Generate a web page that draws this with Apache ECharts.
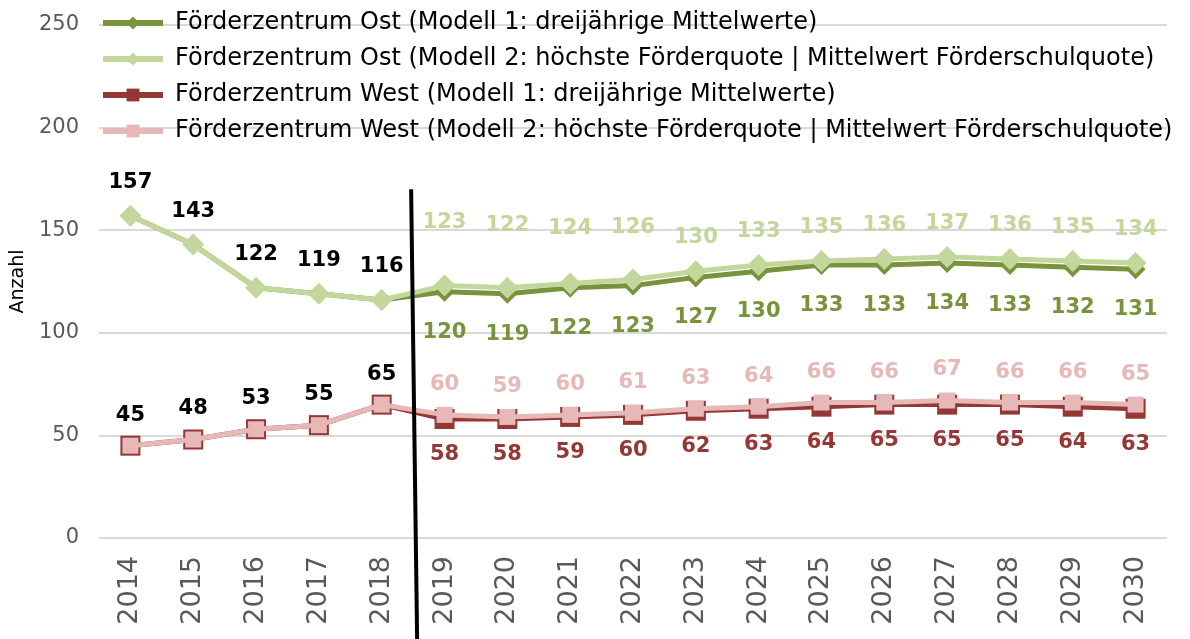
<!DOCTYPE html>
<html>
<head>
<meta charset="utf-8">
<script src="https://cdn.jsdelivr.net/npm/echarts@6/dist/echarts.min.js"></script>
<style>
  html, body { margin: 0; padding: 0; background: #fff; }
  #chart { width: 1190px; height: 639px; }
</style>
</head>
<body>
<div id="chart"></div>
<script>
// Daten
const years = ['2014', '2015', '2016', '2017', '2018', '2019', '2020', '2021', '2022',
  '2023', '2024', '2025', '2026', '2027', '2028', '2029', '2030'];
const ostModell1 = [157, 143, 122, 119, 116, 120, 119, 122, 123, 127, 130, 133, 133, 134, 133, 132, 131];
const ostModell2 = [157, 143, 122, 119, 116, 123, 122, 124, 126, 130, 133, 135, 136, 137, 136, 135, 134];
const westModell1 = [45, 48, 53, 55, 65, 58, 58, 59, 60, 62, 63, 64, 65, 65, 65, 64, 63];
const westModell2 = [45, 48, 53, 55, 65, 60, 59, 60, 61, 63, 64, 66, 66, 67, 66, 66, 65];
const seriesNames = [
  'Förderzentrum Ost (Modell 1: dreijährige Mittelwerte)',
  'Förderzentrum Ost (Modell 2: höchste Förderquote | Mittelwert Förderschulquote)',
  'Förderzentrum West (Modell 1: dreijährige Mittelwerte)',
  'Förderzentrum West (Modell 2: höchste Förderquote | Mittelwert Förderschulquote)'
];
const istJahre = 5; // 2014-2018 Ist-Werte

const font = '"DejaVu Sans", Verdana, sans-serif';
const dunkelGruen = '#77933c', hellGruen = '#c3d69b';
const dunkelRot = '#953735', hellRot = '#e6b9b8';

// Labels Ost Modell 2 in 2019-2022 etwas hoeher gesetzt (wie im Original)
const ostLabelShift = { 5: -30, 6: -29, 7: -22, 8: -18 };

// Modell 1: Ist-Jahre ohne Label, Prognose unten
function modell1Data(values) {
  return values.map((v, i) => i < istJahre ? { value: v, label: { show: false } } : v);
}
// Modell 2: Ist-Jahre schwarzes Label oben
function modell2Data(values, shift) {
  return values.map((v, i) => {
    if (i < istJahre) return { value: v, label: { color: '#000' } };
    if (shift && shift[i]) return { value: v, label: { offset: [0, shift[i]] } };
    return v;
  });
}

function lineSeries(name, data, color, symbol, size, pos, dist, z) {
  return {
    name: name,
    type: 'line',
    data: data,
    z: z,
    symbol: symbol,
    symbolSize: size,
    showAllSymbol: true,
    color: color,
    lineStyle: { color: color, width: 5 },
    itemStyle: { color: color },
    emphasis: { disabled: true },
    label: {
      show: true,
      position: pos,
      distance: dist,
      color: color,
      fontFamily: font,
      fontSize: 21,
      fontWeight: 'bold'
    }
  };
}

const chart = echarts.init(document.getElementById('chart'));
chart.setOption({
  animation: false,
  textStyle: { fontFamily: font },
  grid: { left: 99, right: 23, top: 25, bottom: 101, outerBoundsMode: 'none' },
  legend: {
    orient: 'vertical',
    left: 100,
    top: 11,
    padding: 0,
    itemWidth: 60,
    itemHeight: 16,
    itemGap: 12,
    lineStyle: { width: 6 },
    textStyle: { fontFamily: font, fontSize: 24, color: '#000', padding: [0, 0, 0, 7] },
    data: seriesNames
  },
  xAxis: {
    type: 'category',
    data: years,
    boundaryGap: true,
    axisLine: { show: false },
    axisTick: { show: false },
    axisLabel: { rotate: 90, fontSize: 27, color: '#595959', margin: 18, fontFamily: font }
  },
  yAxis: {
    type: 'value',
    min: 0,
    max: 250,
    interval: 50,
    name: 'Anzahl',
    nameLocation: 'middle',
    nameGap: 71,
    nameTextStyle: { fontSize: 19, color: '#000', fontFamily: font },
    axisLabel: { fontSize: 21, color: '#595959', margin: 20, fontFamily: font },
    splitLine: { lineStyle: { color: '#d9d9d9', width: 2 } }
  },
  series: [
    lineSeries(seriesNames[0], modell1Data(ostModell1), dunkelGruen, 'diamond', 20, 'bottom', 20, 2),
    lineSeries(seriesNames[1], modell2Data(ostModell2, ostLabelShift), hellGruen, 'diamond', 22, 'top', 12, 3),
    lineSeries(seriesNames[2], modell1Data(westModell1), dunkelRot, 'rect', 20, 'bottom', 15, 2),
    lineSeries(seriesNames[3], modell2Data(westModell2), hellRot, 'rect', 16, 'top', 12, 3)
  ]
});

// Trennlinie zwischen Ist- und Prognosejahren
const x18 = chart.convertToPixel({ xAxisIndex: 0 }, '2018');
const x19 = chart.convertToPixel({ xAxisIndex: 0 }, '2019');
const xm = (x18 + x19) / 2;
const yTop = chart.convertToPixel({ yAxisIndex: 0 }, 170);
chart.setOption({
  graphic: [{
    type: 'line',
    z: 10,
    shape: { x1: xm - 2, y1: yTop, x2: xm + 4, y2: 639 },
    style: { stroke: '#000', lineWidth: 4 }
  }]
});
</script>
</body>
</html>
